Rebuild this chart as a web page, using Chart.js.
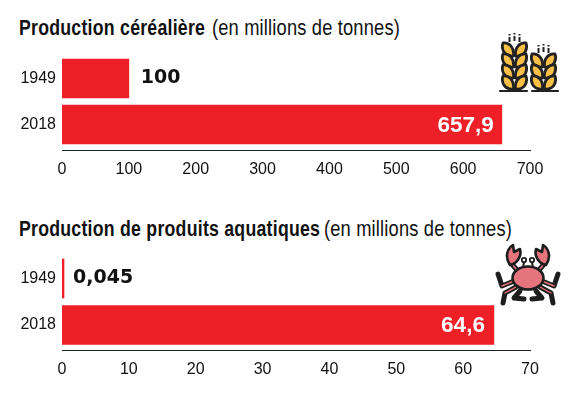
<!DOCTYPE html>
<html>
<head>
<meta charset="utf-8">
<script src="https://cdn.jsdelivr.net/npm/chart.js@4"></script>
<style>
    html, body { margin: 0; padding: 0; background: #fff; }
    #page { position: relative; width: 574px; height: 394px; overflow: hidden; }
    .title { position: absolute; font: 22px "Liberation Sans", sans-serif; color: #111; white-space: nowrap; transform-origin: left top; }
    .title.bold { font-weight: bold; left: 19px; transform: scaleX(.805); letter-spacing: .3px; }
    .title.plain { transform: scaleX(.832); letter-spacing: .2px; }
    .box { position: absolute; left: 0; width: 574px; height: 135px; }
    #icons { position: absolute; left: 0; top: 0; }
</style>
</head>
<body>
<div id="page">
    <div class="title bold" style="top:15px">Production céréalière</div>
    <div class="title plain" style="top:15px;left:212px">(en millions de tonnes)</div>
    <div class="title bold" style="top:216px">Production de produits aquatiques</div>
    <div class="title plain" style="top:216px;left:324px">(en millions de tonnes)</div>
    <div class="box" style="top:55px"><canvas id="grainChart"></canvas></div>
    <div class="box" style="top:255px"><canvas id="aquaChart"></canvas></div>

    <!-- decorative icons -->
    <svg id="icons" width="574" height="394" viewBox="0 0 574 394">
        <defs>
            <g id="leaves" fill="#f9bf47" stroke="#222" stroke-width="2.8" stroke-linejoin="round">
                <path d="M-1,1 C-12,2 -13,-8 -11.5,-12 C-5,-13 0,-7 -1,1 Z"/>
                <path d="M1,1 C12,2 13,-8 11.5,-12 C5,-13 0,-7 1,1 Z"/>
            </g>
        </defs>
        <!-- wheat, left ear -->
        <g>
            <use href="#leaves" x="514.5" y="55"/>
            <use href="#leaves" x="514.5" y="66"/>
            <use href="#leaves" x="514.5" y="77"/>
            <use href="#leaves" x="514.5" y="88"/>
            <path d="M509.5,34 V42 M514.5,33 V41 M519.5,34 V42" stroke="#222" stroke-width="2" stroke-dasharray="1.5 1.5 6"/>
            <path d="M514.5,88 V91" stroke="#222" stroke-width="2.4"/>
        </g>
        <!-- wheat, right ear -->
        <g>
            <use href="#leaves" x="543.5" y="66"/>
            <use href="#leaves" x="543.5" y="77"/>
            <use href="#leaves" x="543.5" y="88"/>
            <path d="M538.5,45 V53 M543.5,44 V52 M548.5,45 V53" stroke="#222" stroke-width="2" stroke-dasharray="1.5 1.5 6"/>
            <path d="M543.5,88 V91" stroke="#222" stroke-width="2.4"/>
        </g>
        <path d="M500,91 H527 M532,91 H558" stroke="#222" stroke-width="2.2" stroke-linecap="round"/>

        <!-- crab: dark legs, then a thin pink line on top -->
        <g stroke-linecap="round" stroke-linejoin="round" fill="none">
            <g stroke="#1d1d1d" stroke-width="5">
                <path d="M514,281 L502,286 L498,274"/>
                <path d="M542,281 L554,286 L558,274"/>
                <path d="M516,287 L505,293 L503,303"/>
                <path d="M540,287 L551,293 L553,303"/>
                <path d="M520,291 L514,298 L524,299"/>
                <path d="M536,291 L542,298 L532,299"/>
                <path d="M517,270 L511,263"/>
                <path d="M539,270 L545,263"/>
            </g>
            <g stroke="#e5747f" stroke-width="1.4">
                <path d="M514,281 L502,286"/>
                <path d="M542,281 L554,286"/>
                <path d="M516,287 L505,293"/>
                <path d="M540,287 L551,293"/>
                <path d="M517,270 L511,263"/>
                <path d="M539,270 L545,263"/>
            </g>
            <g stroke="#1d1d1d">
                <path d="M523,268 L524,262 M533,268 L532,262" stroke-width="2"/>
                <path d="M510,265 C504,256 508,248 513,245 L514,252 L520,249 C522,256 517,264 510,265 Z" fill="#e5747f" stroke-width="2.6"/>
                <path d="M546,265 C552,256 548,248 543,245 L542,252 L536,249 C534,256 539,264 546,265 Z" fill="#e5747f" stroke-width="2.6"/>
                <circle cx="524" cy="260" r="2.2" fill="#fff" stroke-width="1.8"/>
                <circle cx="532" cy="260" r="2.2" fill="#fff" stroke-width="1.8"/>
                <ellipse cx="528" cy="278" rx="15.5" ry="11.5" fill="#e5747f" stroke-width="2.6"/>
            </g>
        </g>
    </svg>
</div>

<script>
// Keep the chart values up here
const years = ['1949', '2018'];
const grainValues = [100, 657.9];
const grainLabels = ['100', '657,9'];
const grainTicks = [0, 100, 200, 300, 400, 500, 600, 700];
const aquaValues = [0.045, 64.6];
const aquaLabels = ['0,045', '64,6'];
const aquaTicks = [0, 10, 20, 30, 40, 50, 60, 70];

const barRed = '#ee1f27';
const inkColor = '#111111';
const tickFont = { family: '"Liberation Sans", sans-serif', size: 16 };

// Writes the value next to each bar, white inside the long one
const valueLabels = {
    id: 'valueLabels',
    afterDatasetsDraw(chart, args, opts) {
        const ctx = chart.ctx;
        const bars = chart.getDatasetMeta(0).data;
        ctx.save();
        ctx.textBaseline = 'middle';
        bars.forEach((bar, i) => {
            if (i === 0) {
                ctx.font = 'bold 19px "DejaVu Sans", sans-serif';
                ctx.textAlign = 'left';
                ctx.fillStyle = inkColor;
                ctx.fillText(opts.texts[i], bar.x + opts.gap, bar.y);
            } else {
                ctx.font = 'bold 22.5px "Liberation Sans", sans-serif';
                ctx.textAlign = 'right';
                ctx.fillStyle = '#ffffff';
                ctx.fillText(opts.texts[i], bar.x - opts.inset, bar.y + 1);
            }
        });
        ctx.restore();
    }
};

function makeChart(canvasId, values, texts, ticks, yMin, yMax, gap, inset) {
    const ctx = document.getElementById(canvasId).getContext('2d');
    return new Chart(ctx, {
        type: 'bar',
        data: {
            datasets: [{
                data: values.map((v, i) => ({ x: v, y: i })),
                backgroundColor: barRed,
                barThickness: 39,
                minBarLength: 2
            }]
        },
        options: {
            indexAxis: 'y',
            responsive: true,
            maintainAspectRatio: false,
            animation: false,
            layout: { padding: { right: 44, left: 0, top: 0, bottom: 0 } },
            plugins: {
                legend: { display: false },
                tooltip: { enabled: false },
                valueLabels: { texts: texts, gap: gap, inset: inset }
            },
            scales: {
                x: {
                    type: 'linear',
                    min: ticks[0],
                    max: ticks[ticks.length - 1],
                    afterFit: scale => { scale.height = 40; },
                    afterBuildTicks: scale => { scale.ticks = ticks.map(t => ({ value: t })); },
                    grid: { display: false, drawTicks: false },
                    border: { display: true, color: '#222222', width: 1 },
                    ticks: { color: inkColor, font: tickFont, padding: 10, maxRotation: 0 }
                },
                y: {
                    type: 'linear',
                    offset: false,
                    reverse: true,
                    min: yMin,
                    max: yMax,
                    // the tick labels would otherwise reserve room above the plot
                    afterFit: scale => { scale.width = 62; scale.paddingTop = 0; scale.paddingBottom = 0; },
                    afterBuildTicks: scale => { scale.ticks = years.map((y, i) => ({ value: i })); },
                    grid: { display: false, drawTicks: false },
                    border: { display: false },
                    ticks: {
                        color: inkColor,
                        font: tickFont,
                        padding: 6,
                        callback: value => years[value]
                    }
                }
            }
        },
        plugins: [valueLabels]
    });
}

makeChart('grainChart', grainValues, grainLabels, grainTicks, -0.511, 1.554, 12, 8);
makeChart('aquaChart', aquaValues, aquaLabels, aquaTicks, -0.505, 1.538, 9, 9);
</script>
</body>
</html>
